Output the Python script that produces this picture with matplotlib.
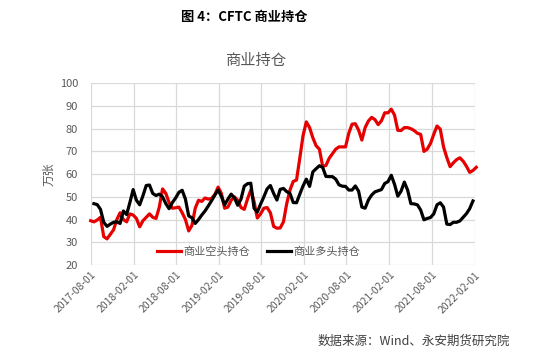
import matplotlib
matplotlib.use("Agg")
import matplotlib.pyplot as plt
import matplotlib.dates as mdates
import pandas as pd

plt.rcParams['font.family'] = ['Noto Sans CJK SC', 'DejaVu Sans']

# CFTC commercial positions, bi-weekly readings (万张)
short_start = "2017-08-01"
short_vals = [
    39.5, 39, 39.8, 41, 32.5, 31.5, 33.5, 35.5, 40, 43,
    40, 39, 42.5, 42, 40.5, 36.8, 39.5, 41, 42.5, 41,
    40.5, 45.5, 53.5, 51.5, 47.5, 45, 45.2, 45.5, 43, 40,
    35, 37.5, 45, 48.5, 48, 49.5, 49, 49.3, 51, 54.3,
    51.5, 45, 45.5, 48.5, 50, 48.5, 45.3, 44.5, 49, 53,
    48, 40.7, 42.5, 45, 45.3, 43, 37, 36.2, 36.3, 39,
    47, 53, 56.8, 57.4, 67, 77, 83, 80.5, 76, 72.5,
    71, 63.5, 63.8, 67, 69, 71, 72, 72, 72, 78,
    82, 82.2, 79.4, 75, 80.5, 83.4, 85, 84, 81.8, 83.5,
    87, 87, 88.6, 86, 79.3, 79.2, 80.5, 80.5, 80, 79.2,
    78, 77.5, 70, 71, 73.5, 77.5, 81.2, 79.8, 72, 67.3,
    63.3, 65, 66.4, 67.2, 65.7, 63.5, 60.8, 61.6, 63,
]
long_start = "2017-08-15"
long_vals = [
    47, 46.6, 44.5, 38.8, 37, 38, 38.8, 39, 38.3, 43.8,
    42.2, 47.5, 53.2, 48.5, 46.5, 50.5, 55, 55.2, 51.5, 50.6,
    51.2, 50, 47, 44.8, 47.5, 49.5, 52, 52.9, 49, 41.6,
    40.8, 38.3, 40, 42, 43.8, 46, 48.3, 50.8, 53, 50.2,
    46.5, 49, 51.2, 49.5, 46.3, 49, 54.7, 55.8, 56, 45,
    43.3, 46.8, 50, 53.5, 55, 51.5, 48.6, 53.3, 53.7, 52.3,
    51.5, 47.5, 47.4, 51.2, 54.8, 57.8, 54.6, 61, 62.4, 63.7,
    63, 59, 58.9, 58.9, 57.8, 55.3, 54.7, 54.6, 53, 53,
    54.8, 52.5, 45.5, 45, 48.6, 50.8, 52.2, 52.7, 53.2, 55.9,
    56.7, 59.5, 55.5, 50.3, 52.5, 56.5, 53, 47, 46.9, 46.5,
    44.2, 39.9, 40.5, 40.9, 42.5, 46.5, 47.4, 45.5, 38, 37.8,
    38.8, 38.8, 39.4, 41, 42.6, 44.8, 48.2,
]
short_label = "商业空头持仓"
long_label = "商业多头持仓"
tick_dates = ["2017-08-01", "2018-02-01", "2018-08-01", "2019-02-01", "2019-08-01",
              "2020-02-01", "2020-08-01", "2021-02-01", "2021-08-01", "2022-02-01"]

short_dates = pd.date_range(short_start, periods=len(short_vals), freq="14D")
long_dates = pd.date_range(long_start, periods=len(long_vals), freq="14D")
ticks = pd.to_datetime(tick_dates)

fig = plt.figure(figsize=(5.43, 3.57), dpi=100)
ax = fig.add_axes([0.167, 0.2577, 0.707, 0.509])

grey = "#595959"
ax.plot(short_dates, short_vals, color="#e60000", lw=2.3, label=short_label,
        clip_on=False, solid_joinstyle="round")
ax.plot(long_dates, long_vals, color="#000000", lw=2.3, label=long_label,
        clip_on=False, solid_joinstyle="round")

ax.set_xlim(ticks[0], ticks[-1])
ax.set_ylim(20, 100)
ax.set_yticks(range(20, 101, 10))
ax.set_xticks(ticks)
ax.xaxis.set_major_formatter(mdates.DateFormatter("%Y-%m-%d"))
ax.grid(True, color="#d9d9d9", lw=0.9)
ax.set_axisbelow(True)
for s in ax.spines.values():
    s.set_visible(False)
ax.tick_params(length=0, colors=grey, labelsize=8)
ax.tick_params(axis="y", pad=9)
for lab in ax.get_xticklabels():
    lab.set_rotation(45)
    lab.set_ha("right")
    lab.set_rotation_mode("anchor")
    lab.set_fontsize(7.5)
ax.set_ylabel("万张", color=grey, fontsize=8.5, labelpad=3)

leg = ax.legend(loc="center", bbox_to_anchor=(258.5 / 543, 1 - 252 / 357),
                bbox_transform=fig.transFigure, ncol=2, frameon=False,
                fontsize=8, handlelength=2.2, columnspacing=1.5, handletextpad=0.2)
for t in leg.get_texts():
    t.set_color(grey)

fig.text(244 / 543, 1 - 17 / 357, "图 4：CFTC 商业持仓", ha="center", va="center",
         fontsize=9.5, fontweight="bold", color="black")
fig.text(255.5 / 543, 1 - 60 / 357, "商业持仓", ha="center", va="center",
         fontsize=11, color=grey)
fig.text(510 / 543, 1 - 341 / 357, "数据来源：Wind、永安期货研究院", ha="right", va="center",
         fontsize=9, color="#404040")

fig.savefig("out.png", dpi=100)
